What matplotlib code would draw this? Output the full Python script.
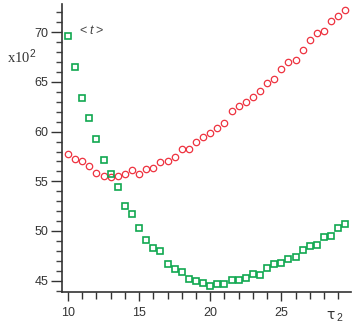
import matplotlib
matplotlib.use("Agg")
import matplotlib.pyplot as plt
import numpy as np
from matplotlib.ticker import MultipleLocator

plt.rcParams['mathtext.fontset'] = 'custom'
plt.rcParams['mathtext.rm'] = 'Liberation Sans'
plt.rcParams['mathtext.it'] = 'Liberation Sans:italic'

tau2 = [10, 10.5, 11, 11.5, 12, 12.5, 13, 13.5, 14, 14.5, 15, 15.5, 16, 16.5, 17, 17.5,
        18, 18.5, 19, 19.5, 20, 20.5, 21, 21.5, 22, 22.5, 23, 23.5, 24, 24.5, 25, 25.5,
        26, 26.5, 27, 27.5, 28, 28.5, 29, 29.5]

green = [69.6, 66.5, 63.4, 61.4, 59.25, 57.1, 55.7, 54.4, 52.5, 51.7, 50.35, 49.07,
         48.24, 47.94, 46.7, 46.2, 45.9, 45.17, 44.97, 44.74, 44.44, 44.67, 44.67, 45.03,
         45.03, 45.3, 45.7, 45.62, 46.3, 46.65, 46.82, 47.19, 47.43, 48.1, 48.44, 48.64,
         49.35, 49.45, 50.28, 50.71]

red = [57.72, 57.22, 57.05, 56.54, 55.8, 55.54, 55.4, 55.57, 55.71, 56.12, 55.71, 56.27,
       56.37, 56.9, 57.05, 57.48, 58.26, 58.26, 58.93, 59.5, 59.9, 60.34, 60.84, 62.08,
       62.55, 63.02, 63.46, 64.09, 64.93, 65.33, 66.28, 67.01, 67.18, 68.25, 69.22, 69.96,
       70.13, 71.1, 71.64, 72.27]

W, H = 362, 327
fig = plt.figure(figsize=(W / 100, H / 100), dpi=100)
ax = fig.add_axes([62 / W, 1 - 291.5 / H, (350.5 - 62) / W, (291.5 - 4) / H])

ax.plot(tau2, red, linestyle='none', marker='o', markersize=4.6, markerfacecolor='none',
        markeredgecolor='#ee3340', markeredgewidth=0.9)
ax.plot(tau2, green, linestyle='none', marker='s', markersize=5.0, markerfacecolor='none',
        markeredgecolor='#10a850', markeredgewidth=1.2)

ax.set_xlim(9.58, 29.86)
ax.set_ylim(43.91, 72.85)

for s in ['top', 'right']:
    ax.spines[s].set_visible(False)
for s in ['left', 'bottom']:
    ax.spines[s].set_color('#333333')
    ax.spines[s].set_linewidth(1.2)

ax.xaxis.set_major_locator(MultipleLocator(5))
ax.xaxis.set_minor_locator(MultipleLocator(1))
ax.yaxis.set_major_locator(MultipleLocator(5))
ax.yaxis.set_minor_locator(MultipleLocator(1))

ax.tick_params(axis='both', which='major', direction='out', color='#333333', width=1.0,
               labelsize=9, labelcolor='#333333')
ax.tick_params(axis='y', which='major', length=8, pad=2)
ax.tick_params(axis='y', which='minor', length=4.5, width=1.0, color='#444444')
ax.tick_params(axis='x', which='major', length=6.5, pad=5)
ax.tick_params(axis='x', which='minor', length=5, width=1.0, color='#333333')

for lab in ax.get_xticklabels() + ax.get_yticklabels():
    lab.set_fontfamily('Liberation Sans')

fig.text(7 / W, 1 - 63 / H, r'x10$^{\mathrm{2}}$', fontsize=10.5, family='Liberation Serif',
         color='#333333', ha='left', va='baseline')

fig.text(79 / W, 1 - 31 / H, r'<', fontsize=9, family='Liberation Sans', color='#444444',
         ha='left', va='center')
fig.text(89 / W, 1 - 31 / H, r't', fontsize=9, family='Liberation Sans', style='italic',
         color='#444444', ha='left', va='center')
fig.text(95 / W, 1 - 31 / H, r'>', fontsize=9, family='Liberation Sans', color='#444444',
         ha='left', va='center')

fig.text(326 / W, 1 - 315 / H, 'τ', fontsize=10, family='DejaVu Sans',
         color='#333333', ha='left', va='center')
fig.text(336 / W, 1 - 318 / H, '2', fontsize=7.5, family='Liberation Sans',
         color='#333333', ha='left', va='center')

fig.savefig('out.png', dpi=100)
